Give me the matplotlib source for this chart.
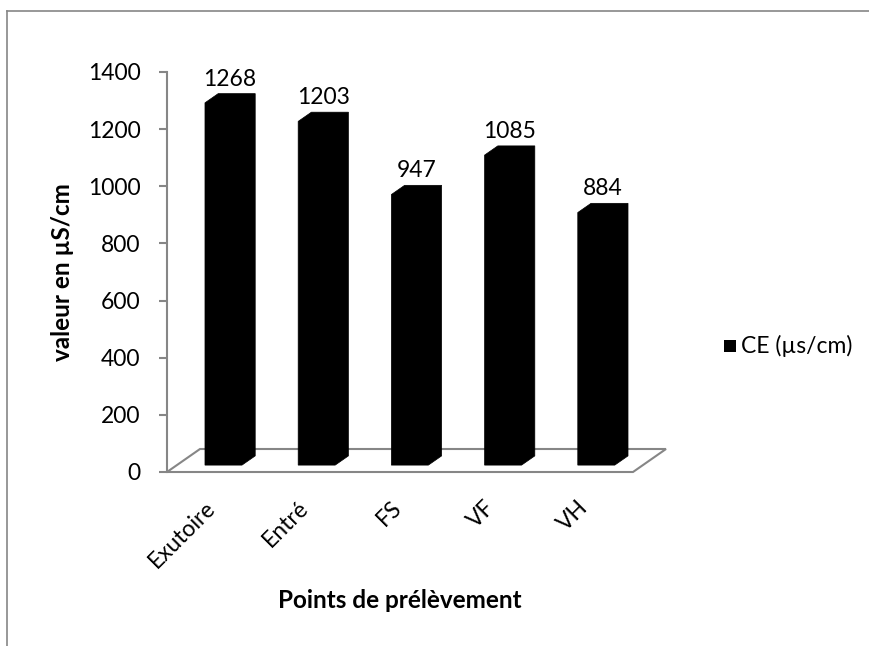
import matplotlib.pyplot as plt
from matplotlib.patches import Polygon
from matplotlib.transforms import offset_copy

# conductivité électrique par point de prélèvement
points = ['Exutoire', 'Entré', 'FS', 'VF', 'VH']
ce = [1268, 1203, 947, 1085, 884]
yticks = [0, 200, 400, 600, 800, 1000, 1200, 1400]

plt.rcParams['font.family'] = ['Lato', 'DejaVu Sans']
grey = '#868686'
fs = 16.5

fig = plt.figure(figsize=(8.69, 6.46), dpi=100)
ax = fig.add_axes([167 / 869, 1 - 472 / 646, 466 / 869, 400 / 646])
ax.set_xlim(0, len(points))
ax.set_ylim(0, 1400)

# depth of the pseudo-3d floor and the columns (data units)
dx, dy = 0.354, 80.5
hx, hy = 0.071, 16.1
w = 0.1985

floor = Polygon([(0, 0), (len(points), 0), (len(points) + dx, dy), (dx, dy)],
                closed=True, facecolor='white', edgecolor=grey, lw=1.5,
                clip_on=False, zorder=1)
ax.add_patch(floor)

for i, (name, v) in enumerate(zip(points, ce)):
    cx = i + 0.5 + dx / 2
    y0 = dy / 2
    top = v + dy / 2
    shape = [(cx - w - hx, y0 - hy), (cx + w - hx, y0 - hy),
             (cx + w + hx, y0 + hy), (cx + w + hx, top + hy),
             (cx - w + hx, top + hy), (cx - w - hx, top - hy)]
    ax.add_patch(Polygon(shape, closed=True, facecolor='black',
                         edgecolor='black', lw=0.5, clip_on=False, zorder=3))
    ax.text(cx, top + hy, str(v), ha='center', va='bottom', fontsize=fs,
            transform=offset_copy(ax.transData, fig=fig, y=4, units='dots'))
    ax.text(i + 0.5, 0, name, rotation=45, ha='right', va='top', fontsize=fs,
            transform=offset_copy(ax.transData, fig=fig, x=6, y=-25, units='dots'))

for s in ['top', 'right', 'bottom']:
    ax.spines[s].set_visible(False)
ax.spines['left'].set_color(grey)
ax.spines['left'].set_linewidth(1.5)
ax.set_xticks([])
ax.set_yticks(yticks)
ax.tick_params(axis='y', colors=grey, length=6, width=1.5, pad=13,
               labelsize=fs, labelcolor='black')

ax.set_ylabel('valeur en µS/cm', fontsize=17.5, fontweight='bold')
ax.yaxis.set_label_coords(-93 / 466, 0.5)
ax.text(0.5, -128 / 400, 'Points de prélèvement', transform=ax.transAxes,
        ha='center', va='center', fontsize=17.5, fontweight='bold')

# legend
fig.patches.append(plt.Rectangle((724 / 869, 1 - 352 / 646), 12 / 869, 12 / 646,
                                 transform=fig.transFigure, facecolor='black'))
fig.text(741 / 869, 1 - 346 / 646, 'CE (µs/cm)', ha='left', va='center', fontsize=fs)

# chart area border
fig.add_artist(plt.Line2D([7 / 869, 1], [1 - 11 / 646] * 2, color=grey, lw=1.2,
                          transform=fig.transFigure))
fig.add_artist(plt.Line2D([7 / 869] * 2, [0, 1 - 11 / 646], color=grey, lw=1.2,
                          transform=fig.transFigure))

fig.savefig('out.png', dpi=100)
